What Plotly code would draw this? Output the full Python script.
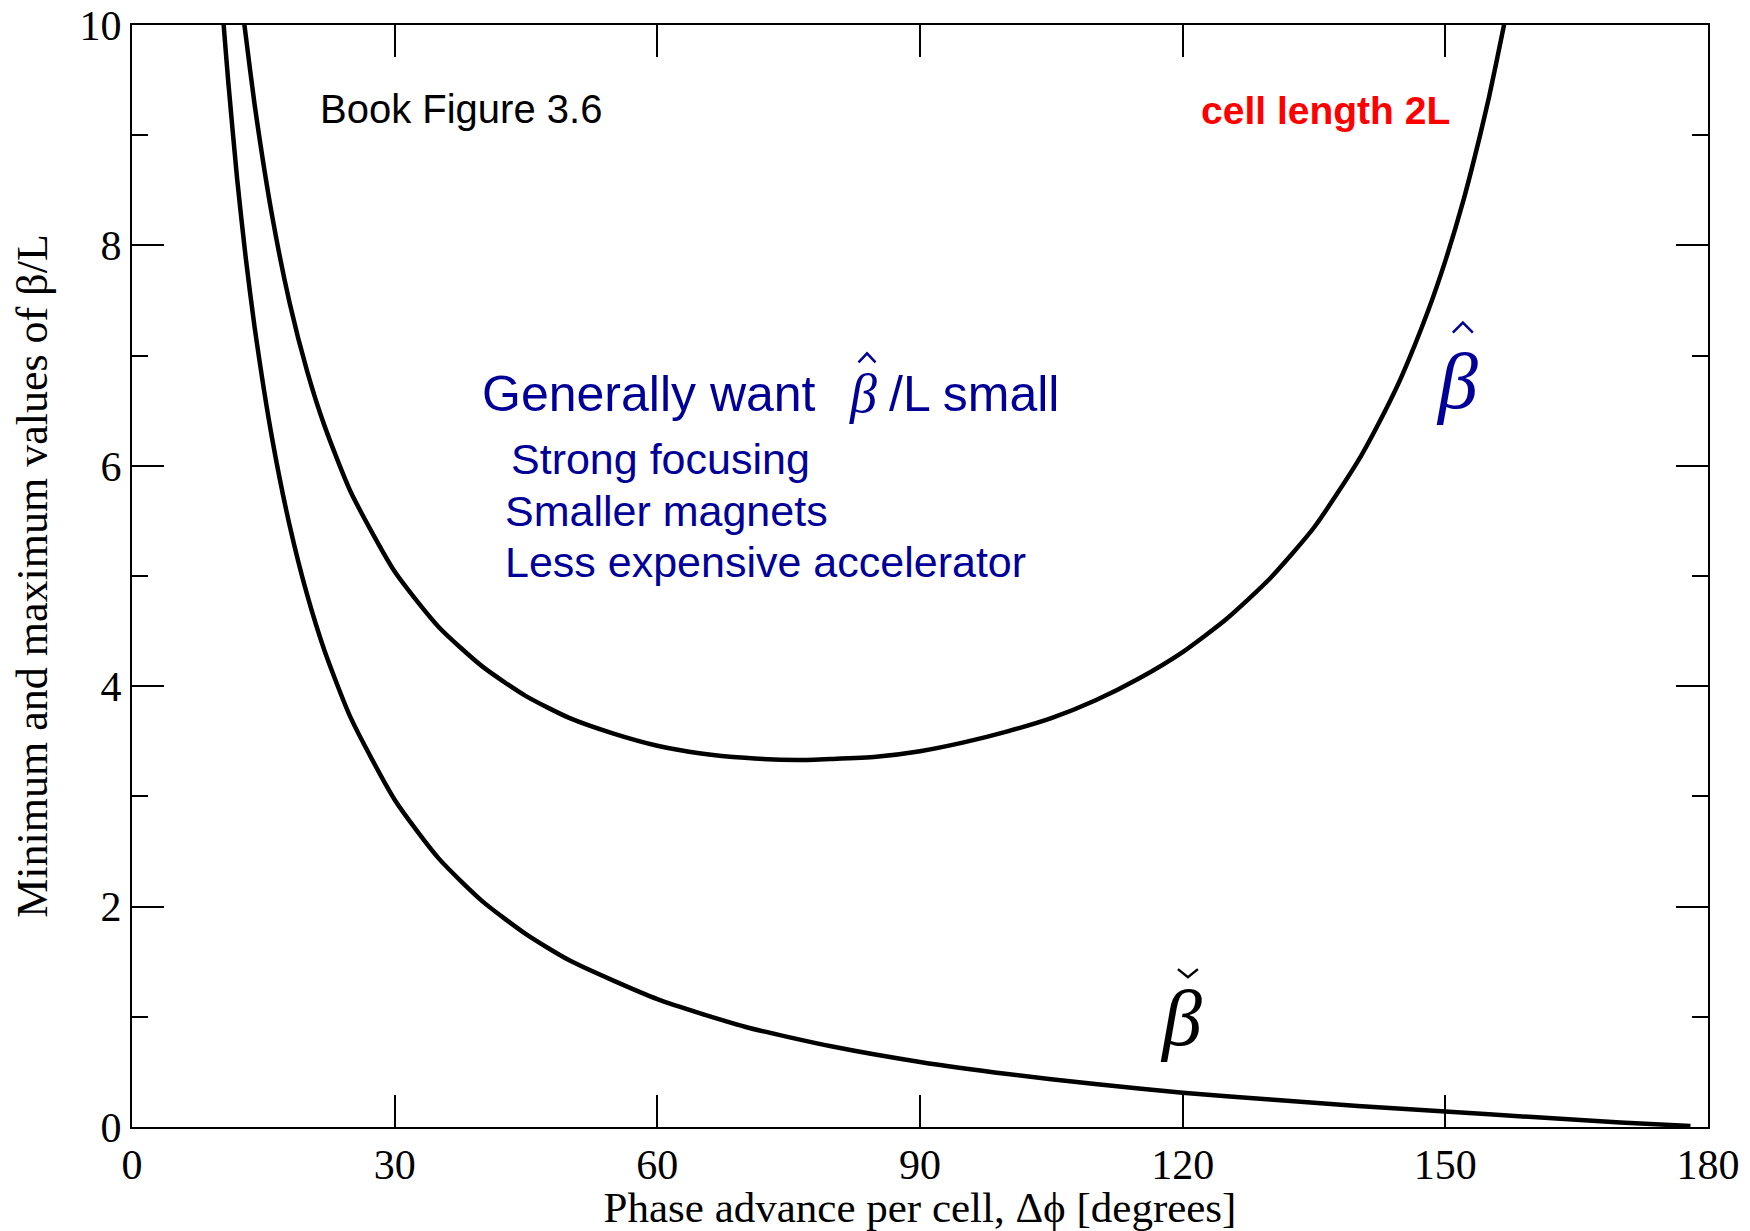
import plotly.graph_objects as go

# Phase advance per cell [degrees] and beta/L values
phase_max = [12.6, 13, 14, 16, 18, 20, 22, 25, 30, 35, 40, 45, 50, 55, 60, 65, 70, 76, 80, 85,
             90, 95, 100, 105, 110, 115, 120, 125, 130, 135, 140, 143, 145, 148, 150, 152, 154,
             155, 156.7, 157]
beta_max = [10.15, 9.9, 9.28, 8.27, 7.48, 6.86, 6.36, 5.76, 5.04, 4.54, 4.18, 3.91, 3.71, 3.57,
            3.46, 3.39, 3.35, 3.33, 3.34, 3.36, 3.41, 3.49, 3.59, 3.71, 3.87, 4.07, 4.31, 4.61,
            4.98, 5.44, 6.04, 6.48, 6.81, 7.40, 7.86, 8.39, 9.01, 9.35, 10.0, 10.14]

phase_min = [10.3, 10.5, 11, 12, 13, 14, 16, 18, 20, 22, 25, 30, 35, 40, 45, 50, 60, 70, 80, 90,
             100, 110, 120, 130, 140, 150, 160, 170, 178]
beta_min = [10.2, 9.97, 9.48, 8.61, 7.88, 7.26, 6.25, 5.46, 4.83, 4.32, 3.71, 2.97, 2.44, 2.05,
            1.75, 1.51, 1.16, 0.91, 0.73, 0.59, 0.48, 0.39, 0.31, 0.25, 0.19, 0.14, 0.09, 0.04,
            0.01]

x_ticks = [0, 30, 60, 90, 120, 150, 180]
y_ticks = [0, 2, 4, 6, 8, 10]

NAVY = "#000099"
SERIF = "Liberation Serif, Times New Roman, serif"
SANS = "Liberation Sans, Arial, sans-serif"
BETA_FONT = "Liberation Serif, DejaVu Serif, serif"

fig = go.Figure()
fig.add_trace(go.Scatter(x=phase_max, y=beta_max, mode="lines",
                         line=dict(color="black", width=4.5, shape="spline", smoothing=0.6),
                         showlegend=False, hoverinfo="skip"))
fig.add_trace(go.Scatter(x=phase_min, y=beta_min, mode="lines",
                         line=dict(color="black", width=4.5, shape="spline", smoothing=0.6),
                         showlegend=False, hoverinfo="skip"))

axis_common = dict(showgrid=False, zeroline=False, showline=True, linecolor="black",
                   linewidth=2, mirror="allticks", ticks="inside", tickcolor="black",
                   tickwidth=2, ticklen=32, automargin=False, ticklabeloverflow="allow")

fig.update_xaxes(range=[0, 180], tickvals=x_ticks, ticktext=[str(v) for v in x_ticks],
                 tickfont=dict(family=SERIF, size=42, color="black"),
                 title=dict(text="Phase advance per cell, Δϕ [degrees]",
                            font=dict(family=SERIF, size=43, color="black"), standoff=6),
                 **axis_common)
fig.update_yaxes(range=[0, 10], tickvals=y_ticks, ticktext=[str(v) for v in y_ticks],
                 tickfont=dict(family=SERIF, size=42, color="black"),
                 minor=dict(dtick=1, tick0=0, ticks="inside", ticklen=16, tickwidth=2,
                            tickcolor="black"),
                 title=dict(text="Minimum and maximum values of β/L",
                            font=dict(family=SERIF, size=44, color="black"), standoff=18),
                 **axis_common)

annotations = [
    dict(x=21.2, y=9.24, text="Book Figure 3.6", xanchor="left",
         font=dict(family=SANS, size=40, color="black")),
    dict(x=136.3, y=9.22, text="<b>cell length 2L</b>", xanchor="center",
         font=dict(family=SANS, size=39, color="#ff0000")),
    dict(x=39.7, y=6.65, text="Generally want", xanchor="left",
         font=dict(family=SANS, size=50, color=NAVY)),
    dict(x=83.5, y=6.65, text="<i>β</i>", xanchor="center",
         font=dict(family=BETA_FONT, size=54, color=NAVY)),
    dict(x=86.2, y=6.65, text="/L small", xanchor="left",
         font=dict(family=SANS, size=50, color=NAVY)),
    dict(x=43.1, y=6.06, text="Strong focusing", xanchor="left",
         font=dict(family=SANS, size=43, color=NAVY)),
    dict(x=42.4, y=5.59, text="Smaller magnets", xanchor="left",
         font=dict(family=SANS, size=43, color=NAVY)),
    dict(x=42.4, y=5.13, text="Less expensive accelerator", xanchor="left",
         font=dict(family=SANS, size=43, color=NAVY)),
    dict(x=151.3, y=6.77, text="<i>β</i>", xanchor="center",
         font=dict(family=BETA_FONT, size=80, color=NAVY)),
    dict(x=119.8, y=0.99, text="<i>β</i>", xanchor="center",
         font=dict(family=BETA_FONT, size=80, color="black")),
]
for a in annotations:
    a.update(xref="x", yref="y", showarrow=False, yanchor="middle")

# accent marks (hat / caron) drawn as small pixel-sized paths anchored near each beta
accents = [
    dict(xanchor=152.0, yanchor=7.30, path="M -10,-10 L 0,0 L 10,-10", color=NAVY),
    dict(xanchor=83.95, yanchor=7.02, path="M -8.5,-9 L 0,0 L 8.5,-9", color=NAVY),
    dict(xanchor=120.6, yanchor=1.36, path="M -10,8 L 0,0 L 10,8", color="black"),
]
shapes = [dict(type="path", xref="x", yref="y", xsizemode="pixel", ysizemode="pixel",
               xanchor=a["xanchor"], yanchor=a["yanchor"], path=a["path"],
               line=dict(color=a["color"], width=2.5)) for a in accents]

fig.update_layout(annotations=annotations, shapes=shapes)

fig.update_layout(width=1750, height=1231, plot_bgcolor="white", paper_bgcolor="white",
                  margin=dict(l=132, r=42, t=25, b=104))

fig.write_html("out.html")
